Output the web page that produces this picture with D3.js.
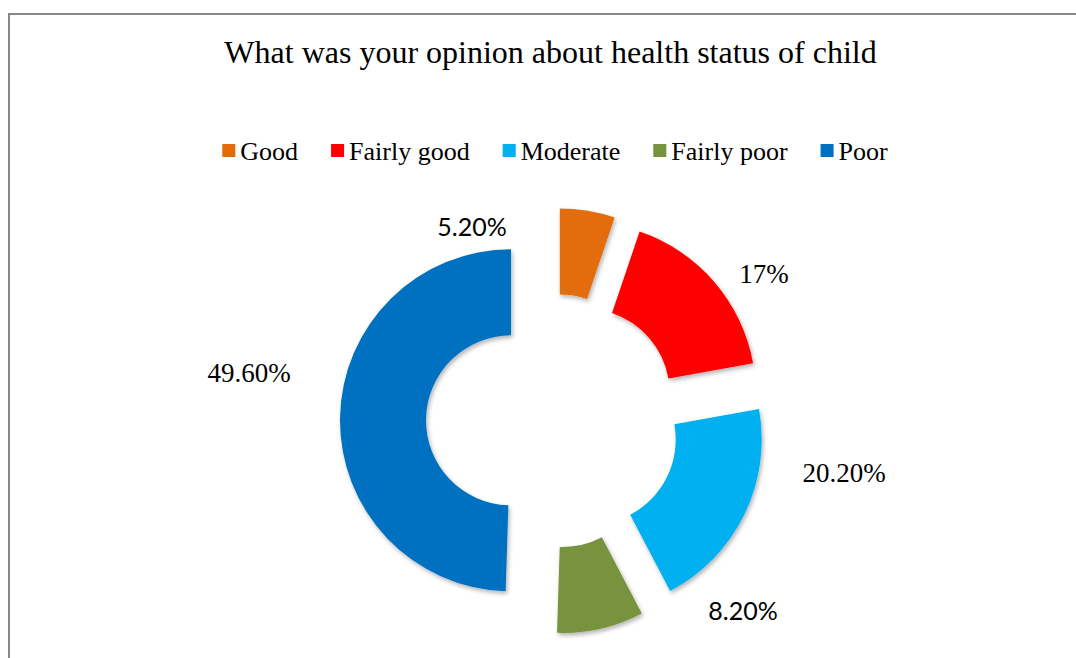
<!DOCTYPE html>
<html>
<head>
<meta charset="utf-8">
<script src="https://cdn.jsdelivr.net/npm/d3@7"></script>
<style>
  html, body { margin: 0; padding: 0; background: #ffffff; }
  svg { display: block; }
</style>
</head>
<body>
<svg id="chart" width="1076" height="658"></svg>
<script>
// Survey answers: opinion about the child's health status
const categories = ["Good", "Fairly good", "Moderate", "Fairly poor", "Poor"];
const shares = [5.2, 17, 20.2, 8.2, 49.6];
const titleText = "What was your opinion about health status of child";

// Slice colours, in category order
const palette = ["#E36C09", "#FF0000", "#00B0F0", "#77933C", "#0070C0"];

// Layout
const W = 1076, H = 658;
const center = { x: 553, y: 421 };
const outerR = 171, innerR = 85;
const explode = 42;
const serif = "'Liberation Serif', 'Times New Roman', serif";
const sans = "Lato, 'Open Sans', sans-serif";

// Per-slice label placement (offset from the pie centre) and face
const labelLayout = [
  { dx: -81, dy: -185, font: sans, size: 25 },
  { dx: 211, dy: -138, font: serif, size: 27 },
  { dx: 291, dy: 61, font: serif, size: 27 },
  { dx: 190, dy: 199, font: sans, size: 25 },
  { dx: -304, dy: -39, font: serif, size: 27 }
];

const fmt = v => Number.isInteger(v) ? v + "%" : v.toFixed(2) + "%";

const data = categories.map((c, i) => ({ category: c, value: shares[i] }));
const color = d3.scaleOrdinal().domain(categories).range(palette);

const svg = d3.select("#chart");

// Drop shadow under the slices
const defs = svg.append("defs");
const f = defs.append("filter").attr("id", "shadow")
  .attr("x", "-20%").attr("y", "-20%").attr("width", "140%").attr("height", "140%");
f.append("feDropShadow")
  .attr("dx", 1.5).attr("dy", 2.5).attr("stdDeviation", 2)
  .attr("flood-color", "#000").attr("flood-opacity", 0.3);

// Chart frame
svg.append("rect")
  .attr("x", 9).attr("y", 14).attr("width", 1100).attr("height", 700)
  .attr("fill", "none").attr("stroke", "#878787").attr("stroke-width", 2);

// Title
svg.append("text")
  .attr("x", 550.5).attr("y", 63)
  .attr("text-anchor", "middle")
  .attr("font-family", serif).attr("font-size", 32)
  .attr("fill", "#000")
  .text(titleText);

// Legend
const legend = svg.append("g").attr("class", "legend");
const sw = 13, swGap = 5, itemGap = 33, legendFont = 26;
const items = legend.selectAll("g").data(categories).join("g");
items.append("rect")
  .attr("width", sw).attr("height", sw)
  .attr("y", 144)
  .attr("fill", d => color(d));
items.append("text")
  .attr("y", 160)
  .attr("x", sw + swGap)
  .attr("font-family", serif).attr("font-size", legendFont)
  .attr("fill", "#000")
  .text(d => d);
let xPos = 0;
const widths = [];
items.each(function () {
  const w = d3.select(this).select("text").node().getComputedTextLength();
  widths.push(sw + swGap + w);
});
const totalW = d3.sum(widths) + itemGap * (widths.length - 1);
xPos = 555 - totalW / 2;
items.attr("transform", (d, i) => {
  const t = `translate(${xPos},0)`;
  xPos += widths[i] + itemGap;
  return t;
});

// Exploded doughnut
const pie = d3.pie().sort(null).value(d => d.value).startAngle(0).endAngle(2 * Math.PI);
const arc = d3.arc().innerRadius(innerR).outerRadius(outerR);
const arcs = pie(data);

const pieG = svg.append("g")
  .attr("transform", `translate(${center.x},${center.y})`);

pieG.selectAll("path.slice")
  .data(arcs)
  .join("path")
  .attr("class", "slice")
  .attr("d", arc)
  .attr("fill", d => color(d.data.category))
  .attr("filter", "url(#shadow)")
  .attr("transform", d => {
    const mid = (d.startAngle + d.endAngle) / 2;
    return `translate(${explode * Math.sin(mid)},${-explode * Math.cos(mid)})`;
  });

// Value labels
pieG.selectAll("text.value")
  .data(arcs)
  .join("text")
  .attr("class", "value")
  .attr("x", (d, i) => labelLayout[i].dx)
  .attr("y", (d, i) => labelLayout[i].dy)
  .attr("text-anchor", "middle")
  .attr("font-family", (d, i) => labelLayout[i].font)
  .attr("font-size", (d, i) => labelLayout[i].size)
  .attr("fill", "#000")
  .text(d => fmt(d.data.value));
</script>
</body>
</html>
